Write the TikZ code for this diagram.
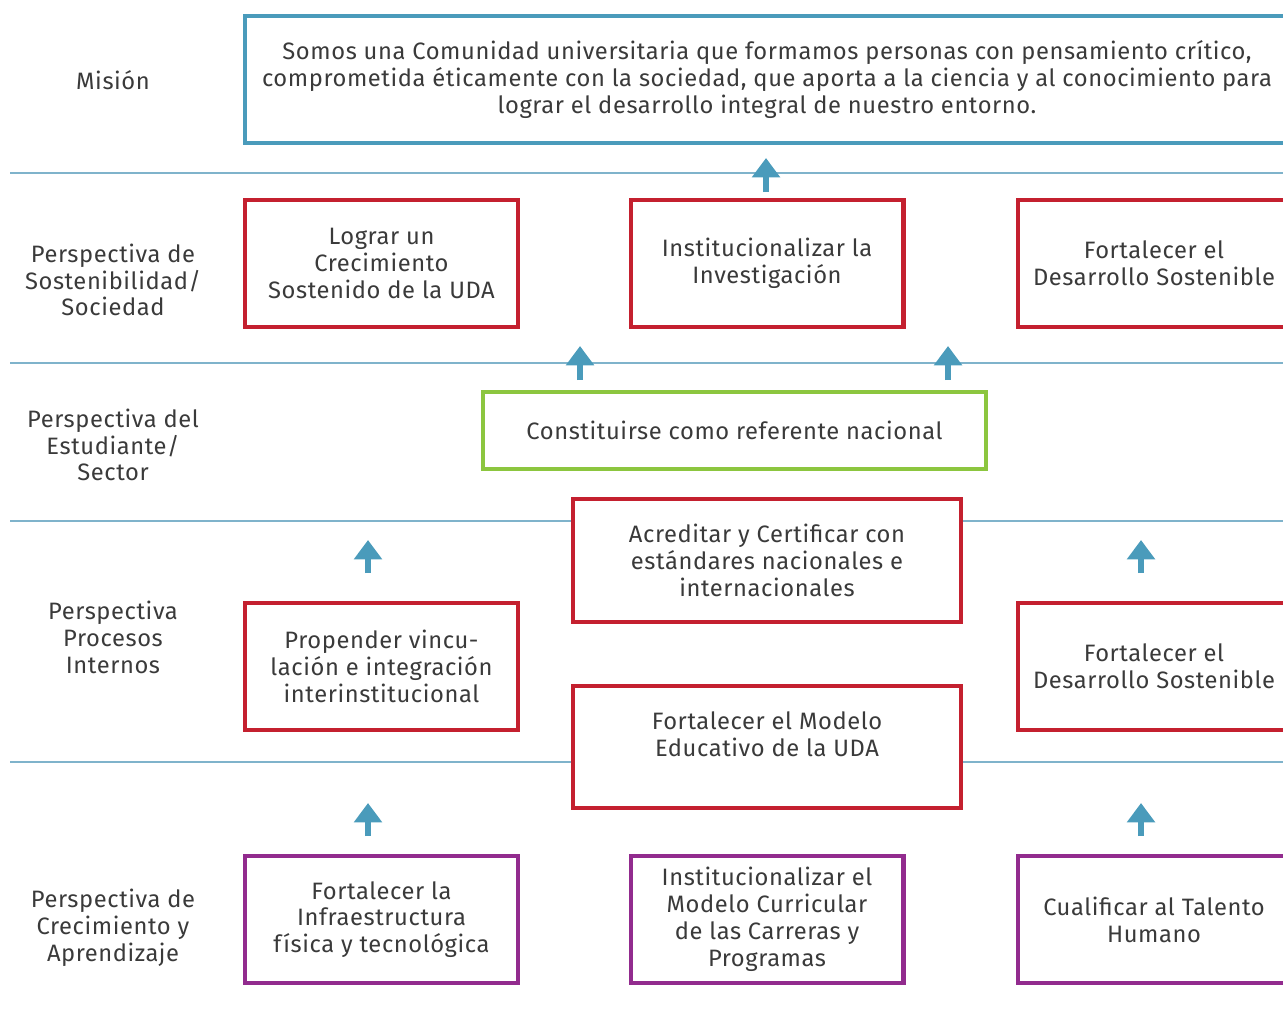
\documentclass[tikz,border=0pt]{standalone}
\usepackage{fontspec}
\setmainfont{Fira Sans}[LetterSpace=2.5]
\usetikzlibrary{arrows.meta}

\definecolor{misblue}{HTML}{4A9BBB}
\definecolor{linblue}{HTML}{7FB3CB}
\definecolor{objred}{HTML}{C4202F}
\definecolor{objgreen}{HTML}{8CC63F}
\definecolor{objpurple}{HTML}{922B8E}
\definecolor{txtgray}{HTML}{3A3A3A}

\begin{document}
\begin{tikzpicture}[
    x=0.02cm, y=-0.02cm,
    font=\fontsize{13.5}{15.3}\selectfont,
    every node/.style={text=txtgray},
    box/.style={
        draw,
        fill=white,
        line width=2.3pt,
        align=center,
        minimum width=5.46cm,
        minimum height=2.54cm
    },
    redbox/.style={box, draw=objred},
    purplebox/.style={box, draw=objpurple},
    persp/.style={align=center},
    sep/.style={draw=linblue, line width=0.8pt},
    up/.style={draw=misblue, line width=3pt, -{Triangle[width=15.5pt,length=11pt]}}
]
\useasboundingbox (0,0) rectangle (1283,1021);
\clip (0,0) rectangle (1283,1021);

% separadores
\draw[sep] (10,173) -- (1283,173);
\draw[sep] (10,363) -- (1283,363);
\draw[sep] (10,521) -- (1283,521);
\draw[sep] (10,762) -- (1283,762);

% perspectivas
\node[persp] (mision) at (113,80) {Misión};
\node[persp] (sostenib) at (113,280) {Perspectiva de\\Sostenibilidad/\\Sociedad};
\node[persp] (estud) at (113,445) {Perspectiva del\\Estudiante/\\Sector};
\node[persp] (procesos) at (113,637) {Perspectiva\\Procesos\\Internos};
\node[persp] (crecim) at (113,928) {Perspectiva de\\Crecimiento y\\Aprendizaje};

% mision
\node[box, draw=misblue, minimum width=20.9cm] (mis) at (767,79.5)
    {Somos una Comunidad universitaria que formamos personas con pensamiento crítico,\\
     comprometida éticamente con la sociedad, que aporta a la ciencia y al conocimiento para\\
     lograr el desarrollo integral de nuestro entorno.};

% sostenibilidad
\node[redbox] (lograr) at (381.5,263.5) {Lograr un\\Crecimiento\\Sostenido de la UDA};
\node[redbox] (investig) at (767,263.5) {Institucionalizar la\\Investigación};
\node[redbox] (sosten1) at (1154,263.5) {Fortalecer el\\Desarrollo Sostenible};

% estudiante
\node[box, draw=objgreen, minimum width=10.06cm, minimum height=1.54cm] (referente) at (734.5,430.5)
    {Constituirse como referente nacional};

% procesos internos
\node[redbox, minimum width=7.76cm, minimum height=2.46cm] (acreditar) at (767,560.5)
    {Acreditar y Certificar con\\estándares nacionales e\\internacionales};
\node[redbox] (propender) at (381.5,666.5) {Propender vincu-\\lación e integración\\interinstitucional};
\node[redbox] (sosten2) at (1154,666.5) {Fortalecer el\\Desarrollo Sostenible};
\node[redbox, minimum width=7.76cm, minimum height=2.44cm] (modelo) at (767,747)
    {Fortalecer el Modelo\\Educativo de la UDA\\[-1pt]~};

% crecimiento
\node[purplebox] (infra) at (381.5,919.5) {Fortalecer la\\Infraestructura\\física y tecnológica};
\node[purplebox] (curric) at (767,919.5) {Institucionalizar el\\Modelo Curricular\\de las Carreras y\\Programas};
\node[purplebox] (talento) at (1154,919.5) {Cualificar al Talento\\Humano};

% flechas
\coordinate (a1s) at (766,192); \coordinate (a1t) at (766,158);
\coordinate (a2s) at (580,380); \coordinate (a2t) at (580,346);
\coordinate (a3s) at (948,380); \coordinate (a3t) at (948,346);
\coordinate (a4s) at (368,573); \coordinate (a4t) at (368,540);
\coordinate (a5s) at (1141,573); \coordinate (a5t) at (1141,540);
\coordinate (a6s) at (368,836); \coordinate (a6t) at (368,803);
\coordinate (a7s) at (1141,836); \coordinate (a7t) at (1141,803);

\draw[up] (a1s) -- (a1t);
\draw[up] (a2s) -- (a2t);
\draw[up] (a3s) -- (a3t);
\draw[up] (a4s) -- (a4t);
\draw[up] (a5s) -- (a5t);
\draw[up] (a6s) -- (a6t);
\draw[up] (a7s) -- (a7t);

\end{tikzpicture}
\end{document}
